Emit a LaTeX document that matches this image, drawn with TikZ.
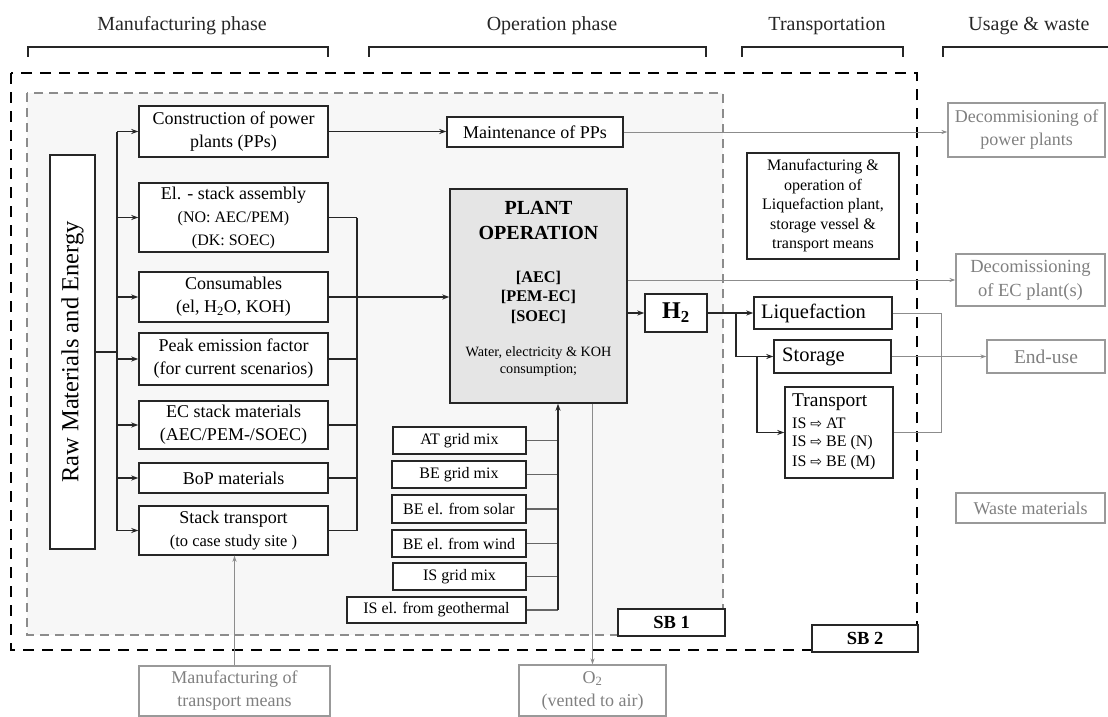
\documentclass[tikz,border=0pt]{standalone}
\usepackage{fontspec}
\setmainfont{Liberation Serif}
\newfontfamily\symf{DejaVu Sans}
\usetikzlibrary{arrows.meta}
\begin{document}
\begin{tikzpicture}[x=1pt,y=-1pt,
  bx/.style={draw=black!85, line width=1.4pt, fill=white, inner sep=0pt, align=center, font=\fontsize{18}{23}\selectfont},
  gbx/.style={draw=black!40, line width=1.1pt, fill=white, inner sep=0pt, align=center, text=black!50, font=\fontsize{18}{23}\selectfont},
  pbx/.style={bx, font=\fontsize{16}{20}\selectfont},
  ln/.style={line width=1.3pt, draw=black!85},
  arr/.style={ln, -{Stealth[length=7pt,width=5pt]}},
  gln/.style={line width=1pt, draw=black!45},
  garr/.style={gln, -{Stealth[length=6pt,width=4pt]}},
  hdr/.style={font=\fontsize{20}{24}\selectfont, text=black!85},
  brk/.style={line width=1.4pt, draw=black!85},
  lbl/.style={inner sep=0pt, anchor=west},
]
\useasboundingbox (0,0) rectangle (1108,717);

% headers
\node[hdr] (hman) at (182,26) {Manufacturing phase};
\node[hdr] (hop) at (552,26) {Operation phase};
\node[hdr] (htr) at (827,26) {Transportation};
\node[hdr] (hus) at (1029,26) {Usage \& waste};
\draw[brk] (28,57) -- (28,47) -- (328,47) -- (328,57);
\draw[brk] (369,57) -- (369,47) -- (706,47) -- (706,57);
\draw[brk] (742,57) -- (742,47) -- (903,47) -- (903,57);
\draw[brk] (943,57) -- (943,47) -- (1108,47);

% system boundaries
\draw[line width=1.6pt, draw=black!45, dash pattern=on 9pt off 6pt, fill=black!3] (27,93) rectangle (723,635);
\draw[line width=2.8pt, dash pattern=on 11pt off 8pt] (11,73) rectangle (917,650);

% left column
\node[bx, minimum width=45pt, minimum height=394pt] (raw) at (72.5,352) {};
\node[rotate=90, font=\fontsize{24.5}{28}\selectfont] (rawt) at (raw.center) {Raw Materials and Energy};

\node[bx, minimum width=189pt, minimum height=51pt] (cons) at (233.5,131.5) {Construction of power\\plants (PPs)};
\node[bx, minimum width=189pt, minimum height=69pt] (elst) at (233.5,217.5) {El. - stack assembly\\{\fontsize{16}{20}\selectfont (NO: AEC/PEM)}\\{\fontsize{16}{20}\selectfont (DK: SOEC)}};
\node[bx, minimum width=189pt, minimum height=50pt] (consu) at (233.5,297) {Consumables\\(el, H\textsubscript{2}O, KOH)};
\node[bx, minimum width=189pt, minimum height=52pt] (peak) at (233.5,359) {Peak emission factor\\(for current scenarios)};
\node[bx, minimum width=189pt, minimum height=48pt] (ecst) at (233.5,425) {EC stack materials\\(AEC/PEM-/SOEC)};
\node[bx, minimum width=189pt, minimum height=30pt] (bop) at (233.5,478) {BoP materials};
\node[bx, minimum width=189pt, minimum height=49pt] (stt) at (233.5,530.5) {Stack transport\\{\fontsize{16.5}{20}\selectfont (to case study site )}};

% middle
\node[bx, minimum width=176pt, minimum height=30pt] (maint) at (535,132) {Maintenance of PPs};
\node[bx, fill=black!10, minimum width=177pt, minimum height=214pt] (plant) at (538.5,296) {};
\node[font=\bfseries\fontsize{20}{25}\selectfont, align=center] (pt1) at (538.5,220.5) {PLANT\\OPERATION};
\node[font=\bfseries\fontsize{16.3}{19.5}\selectfont, align=center] (pt2) at (538.5,297) {{[AEC]}\\{[PEM-EC]}\\{[SOEC]}};
\node[font=\fontsize{14.2}{17}\selectfont, align=center] (pt3) at (538.5,361.5) {Water, electricity \& KOH\\consumption;};
\node[bx, minimum width=62pt, minimum height=38pt, font=\bfseries\fontsize{24}{28}\selectfont] (h2) at (676,313) {H\textsubscript{2}};

\node[pbx, minimum width=133pt, minimum height=27pt] (at) at (459.5,440.5) {AT grid mix};
\node[pbx, minimum width=134pt, minimum height=27pt] (begrid) at (459,474.5) {BE grid mix};
\node[pbx, minimum width=134pt, minimum height=28pt] (besol) at (459,509) {BE el. from solar};
\node[pbx, minimum width=134pt, minimum height=27pt] (bewind) at (459,543.5) {BE el. from wind};
\node[pbx, minimum width=133pt, minimum height=27pt] (isgrid) at (459.5,576.5) {IS grid mix};
\node[pbx, minimum width=179pt, minimum height=26pt] (isgeo) at (436.5,610) {IS el. from geothermal};

\node[bx, minimum width=107pt, minimum height=27pt, font=\bfseries\fontsize{18.5}{22}\selectfont] (sb1) at (671.5,622.5) {SB 1};
\node[bx, minimum width=106pt, minimum height=27pt, font=\bfseries\fontsize{18.5}{22}\selectfont] (sb2) at (865,638.5) {SB 2};

% outside gray boxes
\node[gbx, minimum width=191pt, minimum height=50pt] (mfgtr) at (234.5,691) {Manufacturing of\\transport means};
\node[gbx, minimum width=147pt, minimum height=51pt] (o2) at (592.5,690.5) {O\textsubscript{2}\\(vented to air)};
\node[gbx, minimum width=157pt, minimum height=54pt] (decpp) at (1026.5,130) {Decommisioning of\\power plants};
\node[gbx, minimum width=149pt, minimum height=52pt, font=\fontsize{18.5}{24}\selectfont] (decec) at (1030.5,280) {Decomissioning\\of EC plant(s)};
\node[gbx, minimum width=118pt, minimum height=33pt, font=\fontsize{19.5}{23}\selectfont] (enduse) at (1046,356.5) {End-use};
\node[gbx, minimum width=149pt, minimum height=30pt] (waste) at (1030.5,508) {Waste materials};

% transportation column
\node[bx, minimum width=152pt, minimum height=106pt, font=\fontsize{16}{19.5}\selectfont] (mfgop) at (823,206) {Manufacturing \&\\operation of\\Liquefaction plant,\\storage vessel \&\\transport means};
\node[bx, minimum width=138pt, minimum height=32pt] (liq) at (823,313) {};
\node[lbl, font=\fontsize{20.5}{24}\selectfont] (liqt) at (761,313) {Liquefaction};
\node[bx, minimum width=117pt, minimum height=33pt] (stor) at (832.5,356.5) {};
\node[lbl, font=\fontsize{20.5}{24}\selectfont] (stort) at (782,356.5) {Storage};
\node[bx, minimum width=108pt, minimum height=91pt] (trans) at (839,432.5) {};
\node[lbl, font=\fontsize{19.5}{23}\selectfont] (tr0) at (792,402) {Transport};
\node[lbl, font=\fontsize{16}{20}\selectfont] (tr1) at (792,423) {IS {\symf\fontsize{14}{16}\selectfont ⇨} AT};
\node[lbl, font=\fontsize{16}{20}\selectfont] (tr2) at (792,443) {IS {\symf\fontsize{14}{16}\selectfont ⇨} BE (N)};
\node[lbl, font=\fontsize{16}{20}\selectfont] (tr3) at (792,463) {IS {\symf\fontsize{14}{16}\selectfont ⇨} BE (M)};

% coordinates
\coordinate (trk) at (117,0);
\coordinate (col) at (357,0);
\coordinate (pc) at (558,0);
\coordinate (b1) at (736,313);
\coordinate (b2) at (757,356.5);
\coordinate (gv) at (941,0);

% left connectors
\draw[ln] (raw.east) -- (raw.east -| trk);
\draw[ln] (cons.west -| trk) -- (stt.west -| trk);
\foreach \n in {cons,elst,consu,peak,ecst,bop,stt}{
  \draw[arr] (\n.west -| trk) -- (\n.west);
}
\draw[ln] (elst.east -| col) -- (stt.east -| col);
\foreach \n in {elst,peak,ecst,bop,stt}{
  \draw[ln] (\n.east) -- (\n.east -| col);
}
\draw[arr] (consu.east) -- (consu.east -| plant.west);
\draw[arr] (cons.east) -- (cons.east -| maint.west);
\draw[garr] (maint.east) -- (maint.east -| decpp.west);
\draw[garr] (mfgtr.north) -- (mfgtr.north |- stt.south);

% plant connectors
\draw[arr] (plant.east |- h2.west) -- (h2.west);
\draw[garr] (plant.east |- decec.west) -- (decec.west);
\foreach \n in {at,begrid,besol,bewind,isgrid,isgeo}{
  \draw[gln, line width=1.1pt, draw=black!60] (\n.east) -- (\n.east -| pc);
}
\draw[arr, line width=1.1pt] (isgeo.east -| pc) -- (plant.south -| pc);
\draw[garr] (plant.south -| o2.north) -- (o2.north);

% transportation connectors
\draw[arr] (h2.east) -- (liq.west);
\draw[arr] (b1) |- (stor.west);
\draw[arr] (b2) |- (trans.west);
\draw[gln] (liq.east) -| (gv |- trans.east) -- (trans.east);
\draw[garr] (stor.east) -- (enduse.west);
\end{tikzpicture}
\end{document}
